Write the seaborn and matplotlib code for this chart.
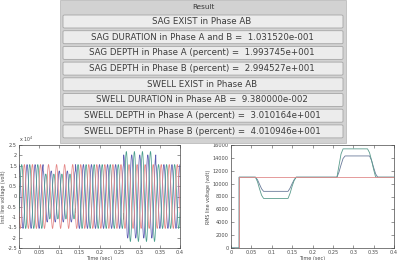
import numpy as np
import pandas as pd
import matplotlib
matplotlib.use("Agg")
import matplotlib.pyplot as plt
from matplotlib.patches import Rectangle, FancyBboxPatch
import seaborn as sns

# ---------------- data ----------------
panel_title = "Result"
result_lines = [
    "SAG EXIST in Phase AB",
    "SAG DURATION in Phase A and B =  1.031520e-001",
    "SAG DEPTH in Phase A (percent) =  1.993745e+001",
    "SAG DEPTH in Phase B (percent) =  2.994527e+001",
    "SWELL EXIST in Phase AB",
    "SWELL DURATION in Phase AB =  9.380000e-002",
    "SWELL DEPTH in Phase A (percent) =  3.010164e+001",
    "SWELL DEPTH in Phase B (percent) =  4.010946e+001",
]

phases = ["A", "B", "C"]
phase_shift_deg = [0, -120, 120]
freq_hz = 50
# peak envelope of the instantaneous voltage (volts)
wave_t = [0, 0.06, 0.06, 0.14, 0.14, 0.26, 0.26, 0.34, 0.34, 0.4]
peak_A = [15500, 15500, 12400, 12400, 15500, 15500, 20200, 20200, 15500, 15500]
peak_B = [15500, 15500, 10900, 10900, 15500, 15500, 21800, 21800, 15500, 15500]
peak_C = [15500] * 10

# RMS line voltage (volts)
rms_t_A = [0, 0.02, 0.02, 0.06, 0.065, 0.07, 0.075, 0.08, 0.14, 0.145, 0.15, 0.155, 0.16,
           0.26, 0.265, 0.27, 0.275, 0.28, 0.34, 0.345, 0.35, 0.355, 0.36, 0.4]
rms_v_A = [0, 0, 11000, 11000, 10600, 9900, 9200, 8800, 8800, 9300, 10000, 10600, 11000,
           11000, 11800, 12900, 13900, 14300, 14300, 13600, 12500, 11500, 11000, 11000]
rms_t_B = [0, 0.02, 0.02, 0.06, 0.065, 0.07, 0.075, 0.08, 0.14, 0.145, 0.15, 0.155, 0.16,
           0.26, 0.265, 0.27, 0.275, 0.335, 0.34, 0.345, 0.35, 0.355, 0.4]
rms_v_B = [0, 0, 11000, 11000, 10300, 9200, 8200, 7700, 7700, 8500, 9600, 10500, 11000,
           11000, 12800, 14600, 15400, 15400, 14800, 13600, 12200, 11000, 11000]
rms_t_C = [0, 0.02, 0.02, 0.4]
rms_v_C = [0, 0, 11000, 11000]

x_ticks = [0, 0.05, 0.1, 0.15, 0.2, 0.25, 0.3, 0.35, 0.4]
x_ticklabels = ["0", "0.05", "0.1", "0.15", "0.2", "0.25", "0.3", "0.35", "0.4"]
inst_yticks = [-25000, -20000, -15000, -10000, -5000, 0, 5000, 10000, 15000, 20000, 25000]
inst_yticklabels = ["-2.5", "-2", "-1.5", "-1", "-0.5", "0", "0.5", "1", "1.5", "2", "2.5"]
rms_yticks = [0, 2000, 4000, 6000, 8000, 10000, 12000, 14000, 16000]
rms_yticklabels = ["0", "2000", "4000", "6000", "8000", "10000", "12000", "14000", "16000"]

colors = {"A": "#5c5cb0", "B": "#4a9e8c", "C": "#e48484"}
rms_colors = {"A": "#6a7a9a", "B": "#5a9c8c", "C": "#e08a8a"}

# ---------------- build frames ----------------
t = np.linspace(0, 0.4, 4001)
frames = []
for ph, sh, pk in zip(phases, phase_shift_deg, [peak_A, peak_B, peak_C]):
    env = np.interp(t, wave_t, pk)
    v = env * np.sin(2 * np.pi * freq_hz * t + np.deg2rad(sh) + np.pi / 2)
    frames.append(pd.DataFrame({"t": t, "v": v, "phase": ph}))
inst_df = pd.concat(frames, ignore_index=True)

rms_df = pd.concat([
    pd.DataFrame({"t": rms_t_A, "v": rms_v_A, "phase": "A"}),
    pd.DataFrame({"t": rms_t_B, "v": rms_v_B, "phase": "B"}),
    pd.DataFrame({"t": rms_t_C, "v": rms_v_C, "phase": "C"}),
], ignore_index=True)

# ---------------- figure ----------------
sns.set_theme(style="ticks")
plt.rcParams["font.family"] = ["DejaVu Sans"]
W, H = 398, 260
fig = plt.figure(figsize=(W / 100, H / 100), dpi=100)
fig.patch.set_facecolor("white")

def fx(px):
    return px / W

def fy(py):
    return 1 - py / H

# GUI result panel
px0, px1, py0, py1 = 60, 346, 0, 143
fig.patches.append(Rectangle((fx(px0), fy(py1)), fx(px1 - px0), (py1 - py0) / H,
                             transform=fig.transFigure, facecolor="#d2d2d2",
                             edgecolor="#b4b4b4", lw=0.5, zorder=0))
fig.text(fx(203), fy(7), panel_title, ha="center", va="center", fontsize=5.2, color="#383838")
bx0, bx1, bh = 63, 343, 13
for i, line in enumerate(result_lines):
    cy = 21.5 + i * 15.7
    fig.patches.append(FancyBboxPatch((fx(bx0), fy(cy + bh / 2)), fx(bx1 - bx0), bh / H,
                                      boxstyle="round,pad=0,rounding_size=0.004",
                                      transform=fig.transFigure, facecolor="#ececec",
                                      edgecolor="#a6a6a6", lw=0.6, zorder=1))
    fig.text(fx(202), fy(cy), line, ha="center", va="center", fontsize=6.2, color="#3c3c3c")

def style_axes(ax):
    ax.set_xlim(0, 0.4)
    ax.set_xticks(x_ticks)
    ax.set_xticklabels(x_ticklabels)
    ax.tick_params(direction="in", length=2, width=0.4, labelsize=3.6, pad=1.5,
                   colors="#484848", top=True, right=True)
    for s in ax.spines.values():
        s.set_linewidth(0.5)
        s.set_color("#484848")
        s.set_visible(True)
    ax.set_xlabel("Time (sec)", fontsize=3.6, labelpad=0.5, color="#484848")

# left: instantaneous voltages
ax1 = fig.add_axes([fx(19), fy(248), fx(180 - 19), (248 - 145) / H])
sns.lineplot(data=inst_df, x="t", y="v", hue="phase", palette=colors, estimator=None,
             sort=False, lw=0.55, legend=False, ax=ax1)
style_axes(ax1)
ax1.set_ylim(-25000, 25000)
ax1.set_yticks(inst_yticks)
ax1.set_yticklabels(inst_yticklabels)
ax1.set_ylabel("Inst line voltage (volt)", fontsize=3.4, labelpad=1, color="#484848")
ax1.text(0.0, 1.005, r"x 10$^4$", transform=ax1.transAxes, fontsize=3.4,
         color="#484848", ha="left", va="bottom")

# right: RMS voltages
ax2 = fig.add_axes([fx(231), fy(248), fx(394 - 231), (248 - 145) / H])
for ph in phases:
    sub = rms_df[rms_df["phase"] == ph]
    sns.lineplot(data=sub, x="t", y="v", color=rms_colors[ph], estimator=None, sort=False,
                 lw=0.6, legend=False, ax=ax2)
style_axes(ax2)
ax2.set_ylim(0, 16000)
ax2.set_yticks(rms_yticks)
ax2.set_yticklabels(rms_yticklabels)
ax2.set_ylabel("RMS line voltage (volt)", fontsize=3.4, labelpad=1, color="#484848")

fig.savefig("out.png", dpi=100, facecolor="white")
